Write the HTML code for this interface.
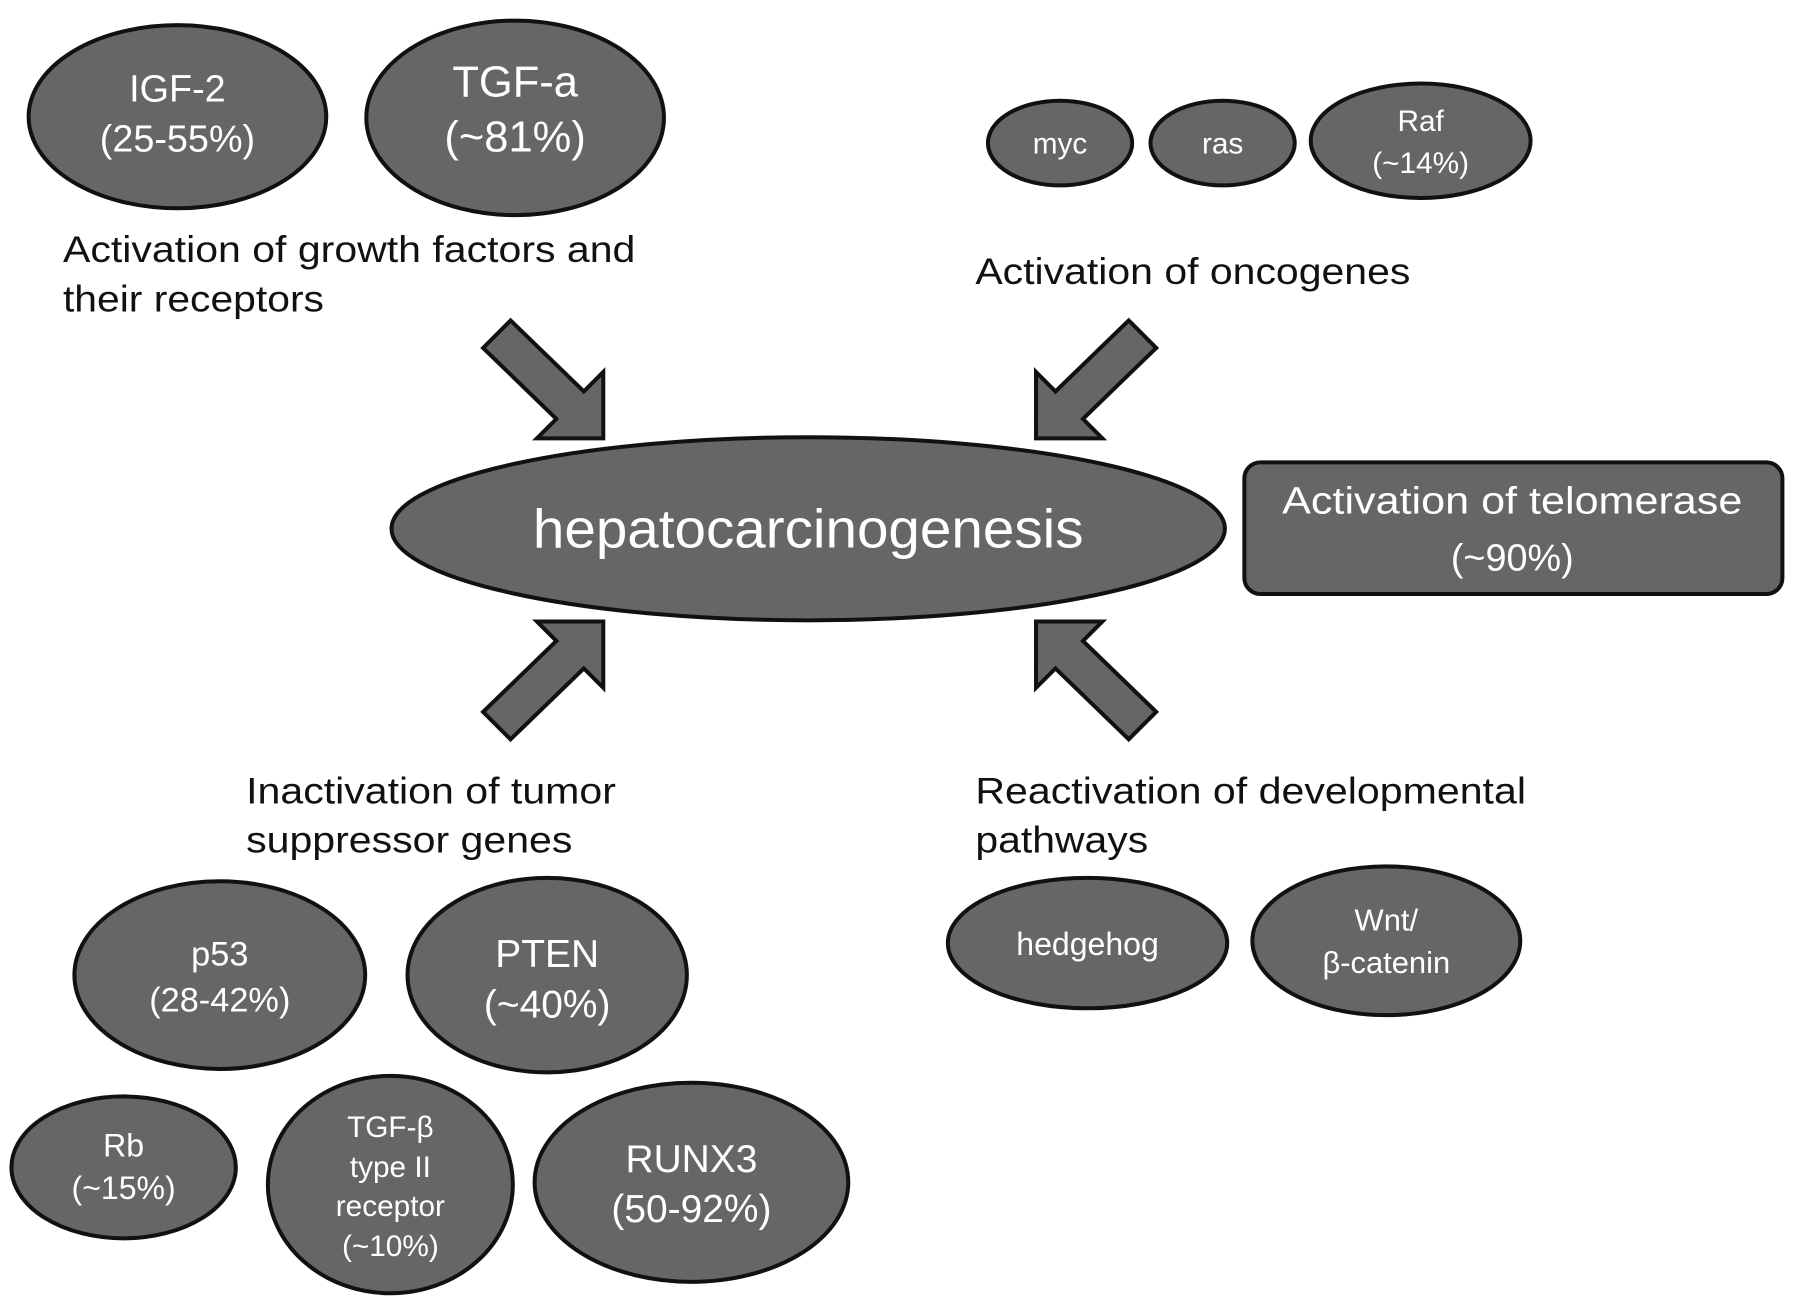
<!DOCTYPE html>
<html><head><meta charset="utf-8"><style>
html,body{margin:0;padding:0;background:#fff;}
svg{display:block;}
text{font-family:"Liberation Sans",Arial,sans-serif;}
.w{fill:#fff;text-anchor:middle;dominant-baseline:central;}
.b{fill:#111;}
ellipse,rect,polygon{fill:#666;stroke:#111;stroke-width:3.5;}
</style></head><body>
<svg width="1795" height="1299" viewBox="0 0 1568 1135" preserveAspectRatio="none">
<ellipse cx="155" cy="102" rx="130" ry="80"/>
<text class="w" x="155" y="78" font-size="33">IGF-2</text>
<text class="w" x="155" y="122" font-size="33">(25-55%)</text>
<ellipse cx="450" cy="103" rx="130" ry="85"/>
<text class="w" x="450" y="72" font-size="38">TGF-a</text>
<text class="w" x="450" y="120" font-size="38">(~81%)</text>
<ellipse cx="926" cy="125" rx="63" ry="37"/>
<text class="w" x="926" y="126" font-size="26">myc</text>
<ellipse cx="1068" cy="125" rx="63" ry="37"/>
<text class="w" x="1068" y="126" font-size="26">ras</text>
<ellipse cx="1241" cy="123" rx="96" ry="50"/>
<text class="w" x="1241" y="106" font-size="26">Raf</text>
<text class="w" x="1241" y="143" font-size="26">(~14%)</text>
<text class="b" x="55" y="229" font-size="32" textLength="500" lengthAdjust="spacingAndGlyphs">Activation of growth factors and</text>
<text class="b" x="55" y="272" font-size="32" textLength="228" lengthAdjust="spacingAndGlyphs">their receptors</text>
<text class="b" x="852" y="248" font-size="32" textLength="380" lengthAdjust="spacingAndGlyphs">Activation of oncogenes</text>
<polygon points="446,280 510,342 527,325 527,383 469,383 486,366 422,304"/>
<polygon points="986,280 922,342 905,325 905,383 963,383 946,366 1010,304"/>
<polygon points="446,646 510,584 527,601 527,543 469,543 486,560 422,622"/>
<polygon points="986,646 922,584 905,601 905,543 963,543 946,560 1010,622"/>
<ellipse cx="706" cy="462" rx="364" ry="80"/>
<text class="w" x="706" y="462" font-size="48" textLength="481" lengthAdjust="spacingAndGlyphs">hepatocarcinogenesis</text>
<rect x="1087" y="404" width="470" height="115" rx="14"/>
<text class="w" x="1321" y="438" font-size="33" textLength="402" lengthAdjust="spacingAndGlyphs">Activation of telomerase</text>
<text class="w" x="1321" y="488" font-size="33">(~90%)</text>
<text class="b" x="215" y="702" font-size="32" textLength="323" lengthAdjust="spacingAndGlyphs">Inactivation of tumor</text>
<text class="b" x="215" y="745" font-size="32" textLength="285" lengthAdjust="spacingAndGlyphs">suppressor genes</text>
<text class="b" x="852" y="702" font-size="32" textLength="481" lengthAdjust="spacingAndGlyphs">Reactivation of developmental</text>
<text class="b" x="852" y="745" font-size="32" textLength="151" lengthAdjust="spacingAndGlyphs">pathways</text>
<ellipse cx="192" cy="852" rx="127" ry="82"/>
<text class="w" x="192" y="834" font-size="30">p53</text>
<text class="w" x="192" y="874" font-size="30">(28-42%)</text>
<ellipse cx="478" cy="852" rx="122" ry="85"/>
<text class="w" x="478" y="834" font-size="34">PTEN</text>
<text class="w" x="478" y="878" font-size="34">(~40%)</text>
<ellipse cx="108" cy="1020" rx="98" ry="62"/>
<text class="w" x="108" y="1001" font-size="28">Rb</text>
<text class="w" x="108" y="1038" font-size="28">(~15%)</text>
<ellipse cx="341" cy="1035" rx="107" ry="95"/>
<text class="w" x="341" y="985" font-size="26">TGF-β</text>
<text class="w" x="341" y="1020" font-size="26">type II</text>
<text class="w" x="341" y="1054" font-size="26">receptor</text>
<text class="w" x="341" y="1089" font-size="26">(~10%)</text>
<ellipse cx="604" cy="1033" rx="137" ry="87"/>
<text class="w" x="604" y="1013" font-size="34">RUNX3</text>
<text class="w" x="604" y="1057" font-size="34">(50-92%)</text>
<ellipse cx="950" cy="824" rx="122" ry="57"/>
<text class="w" x="950" y="825" font-size="28">hedgehog</text>
<ellipse cx="1211" cy="822" rx="117" ry="65"/>
<text class="w" x="1211" y="804" font-size="27">Wnt/</text>
<text class="w" x="1211" y="841" font-size="27">β-catenin</text>
</svg>
</body></html>
